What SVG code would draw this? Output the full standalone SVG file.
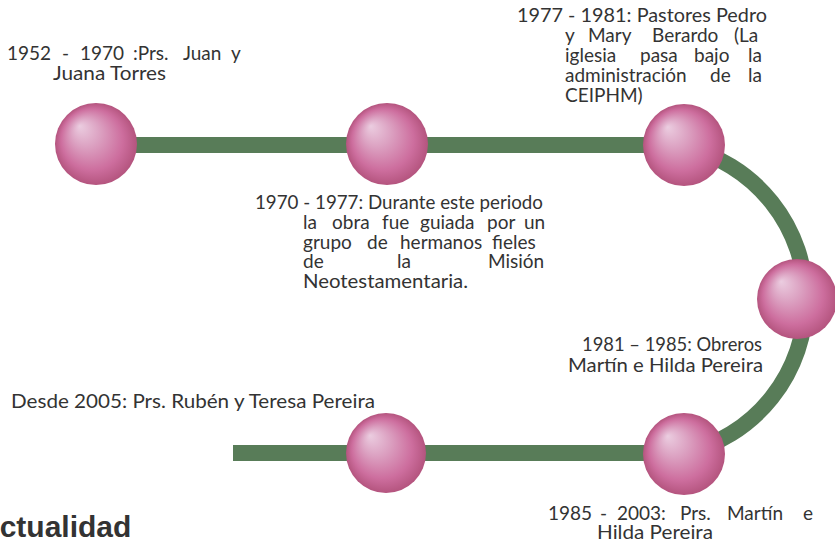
<svg xmlns="http://www.w3.org/2000/svg" width="835" height="542" viewBox="0 0 835 542">
<defs>
<radialGradient id="ball" cx="0.5" cy="0.5" r="0.5" fx="0.3" fy="0.28">
<stop offset="0" stop-color="#ebcde0"/>
<stop offset="0.35" stop-color="#dca2c2"/>
<stop offset="0.75" stop-color="#cd6e9e"/>
<stop offset="1" stop-color="#b4547e"/>
</radialGradient>
<style>
.t{font-family:Lato,"Noto Sans",sans-serif;font-size:19px;fill:#333}
.h{font-family:"Liberation Sans",Arial,sans-serif;font-size:30px;font-weight:bold;fill:#333}
.ln{fill:none;stroke:#587c58;stroke-width:16}
.b{fill:url(#ball)}
</style>
</defs>
<rect width="835" height="542" fill="#fff"/>
<g id="connectors">
<path class="ln" d="M96 145 H684"/>
<path class="ln" d="M684 147 A157 157 0 0 1 684 453"/>
<path class="ln" d="M233 453 H684"/>
</g>
<g id="n1952">
<circle class="b" cx="96" cy="144" r="41"/>
<text class="t" y="60"><tspan x="7">1952</tspan><tspan x="62">-</tspan><tspan x="80">1970</tspan><tspan x="133">:Prs.</tspan><tspan x="183">Juan</tspan><tspan x="231">y</tspan></text>
<text class="t" x="53" y="80" textLength="113" lengthAdjust="spacingAndGlyphs">Juana Torres</text>
</g>
<g id="n1970">
<circle class="b" cx="387" cy="144" r="41"/>
<text class="t" x="255" y="209" textLength="288" lengthAdjust="spacingAndGlyphs">1970 - 1977: Durante este periodo</text>
<text class="t" y="229"><tspan x="303">la</tspan><tspan x="332">obra</tspan><tspan x="382">fue</tspan><tspan x="420">guiada</tspan><tspan x="487">por</tspan><tspan x="524">un</tspan></text>
<text class="t" y="249"><tspan x="303">grupo</tspan><tspan x="367">de</tspan><tspan x="400">hermanos</tspan><tspan x="492">fieles</tspan></text>
<text class="t" y="268"><tspan x="303">de</tspan><tspan x="397">la</tspan><tspan x="488">Misión</tspan></text>
<text class="t" x="303" y="288" textLength="165" lengthAdjust="spacingAndGlyphs">Neotestamentaria.</text>
</g>
<g id="n1977">
<circle class="b" cx="684" cy="145" r="41"/>
<text class="t" x="517" y="22" textLength="250" lengthAdjust="spacingAndGlyphs">1977 - 1981: Pastores Pedro</text>
<text class="t" y="42"><tspan x="565">y</tspan><tspan x="588">Mary</tspan><tspan x="652">Berardo</tspan><tspan x="734">(La</tspan></text>
<text class="t" y="62"><tspan x="565">iglesia</tspan><tspan x="640">pasa</tspan><tspan x="694">bajo</tspan><tspan x="748">la</tspan></text>
<text class="t" y="82"><tspan x="565">administración</tspan><tspan x="710">de</tspan><tspan x="748">la</tspan></text>
<text class="t" x="565" y="102">CEIPHM)</text>
</g>
<g id="n1981">
<circle class="b" cx="797" cy="299" r="40"/>
<text class="t" x="582" y="351" textLength="180" lengthAdjust="spacingAndGlyphs">1981 – 1985: Obreros</text>
<text class="t" x="568" y="372" textLength="195" lengthAdjust="spacingAndGlyphs">Martín e Hilda Pereira</text>
</g>
<g id="n1985">
<circle class="b" cx="684" cy="454" r="41"/>
<text class="t" y="520"><tspan x="548">1985</tspan><tspan x="600">-</tspan><tspan x="617">2003:</tspan><tspan x="680">Prs.</tspan><tspan x="727">Martín</tspan><tspan x="803">e</tspan></text>
<text class="t" x="597" y="539" textLength="116" lengthAdjust="spacingAndGlyphs">Hilda Pereira</text>
</g>
<g id="n2005">
<circle class="b" cx="386" cy="453" r="40"/>
<text class="t" x="11" y="408" textLength="364" lengthAdjust="spacingAndGlyphs">Desde 2005: Prs. Rubén y Teresa Pereira</text>
</g>
<text class="h" x="-22" y="537">Actualidad</text>
</svg>
